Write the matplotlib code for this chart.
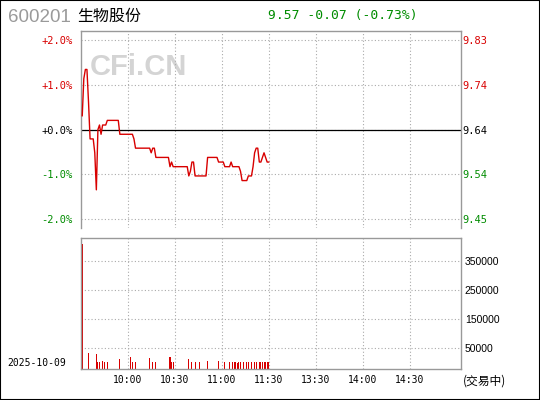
import numpy as np
import matplotlib.pyplot as plt
from matplotlib.patches import Rectangle

# quote header
code = '600201'
name = '生物股份'
last_price = 9.57
change = -0.07
change_pct = -0.73
prev_close = 9.64
trade_date = '2025-10-09'
status = '(交易中)'

# one price per minute, 9:31 .. 11:30
minutes = list(range(1, 121))
prices = [
    9.67, 9.75, 9.77, 9.77, 9.70, 9.62, 9.62, 9.62, 9.59, 9.51,
    9.64, 9.65, 9.63, 9.65, 9.65, 9.65, 9.66, 9.66, 9.66, 9.66,
    9.66, 9.66, 9.66, 9.66, 9.63, 9.63, 9.63, 9.63, 9.63, 9.63,
    9.63, 9.63, 9.63, 9.62, 9.60, 9.60, 9.60, 9.60, 9.60, 9.60,
    9.60, 9.60, 9.60, 9.60, 9.59, 9.60, 9.60, 9.58, 9.58, 9.58,
    9.58, 9.58, 9.58, 9.58, 9.58, 9.58, 9.56, 9.57, 9.56, 9.56,
    9.56, 9.56, 9.56, 9.56, 9.56, 9.56, 9.56, 9.56, 9.54, 9.55,
    9.57, 9.57, 9.54, 9.54, 9.54, 9.54, 9.54, 9.54, 9.54, 9.54,
    9.58, 9.58, 9.58, 9.58, 9.58, 9.58, 9.58, 9.57, 9.57, 9.57,
    9.57, 9.56, 9.56, 9.56, 9.56, 9.57, 9.56, 9.56, 9.56, 9.56,
    9.56, 9.55, 9.53, 9.53, 9.53, 9.53, 9.54, 9.54, 9.54, 9.56,
    9.59, 9.60, 9.60, 9.57, 9.57, 9.58, 9.59, 9.58, 9.57, 9.57,
]

# volume bars (minute index, shares)
vol_minutes = [1, 5, 10, 11, 12, 14, 15, 17, 25, 32, 33, 35, 44, 46, 48,
               57, 58, 59, 69, 71, 73, 76, 81, 88, 92, 95, 97, 98, 99, 100,
               101, 102, 104, 106, 107, 109, 111, 112, 114, 115, 116, 117,
               118, 119, 120]
volumes = [410000, 35000, 30000, 4000, 4000, 7000, 1200, 4000, 13000, 20000,
           1200, 1200, 16500, 1200, 4000, 20000, 1200, 1200, 13000, 1200,
           1200, 1200, 7000, 7000, 4000, 4000, 1200, 4000, 4000, 300,
           1200, 1200, 1200, 4000, 1200, 1200, 1200, 1200, 1200, 1200,
           1200, 1200, 4000, 1200, 1200]

pct_ticks = [2.0, 1.0, 0.0, -1.0, -2.0]
time_ticks = [30, 60, 90, 120, 150, 180, 210]
time_labels = ['10:00', '10:30', '11:00', '11:30', '13:30', '14:00', '14:30']
vol_ticks = [50000, 150000, 250000, 350000]

RED = '#d80000'
GREEN = '#008c00'
FRAME = '#999999'
GRID = '#aaaaaa'
MONO = 'DejaVu Sans Mono'

fig = plt.figure(figsize=(5.4, 4.0), dpi=100)
fig.add_artist(Rectangle((0, 0), 1, 1, transform=fig.transFigure,
                         fill=False, edgecolor='black', linewidth=1.5))

ax = fig.add_axes([0.1494, 0.4293, 0.7037, 0.4932])
axv = fig.add_axes([0.1494, 0.0763, 0.7037, 0.3287])

# ---- price panel ----
pct = (np.array(prices) / prev_close - 1) * 100
ax.plot(minutes, pct, color=RED, linewidth=1.0, zorder=3)
ax.axhline(0, color='black', linewidth=0.9, zorder=2)
lim = 2.21
ax.set_ylim(-lim, lim)
ax.set_xlim(0, 242.5)
ax.set_xticks(time_ticks)
ax.set_xticklabels([])
ax.set_yticks(pct_ticks)
ax.set_yticklabels(['%+.1f%%' % p for p in pct_ticks], fontsize=7.5, family=MONO)
for lab, p in zip(ax.get_yticklabels(), pct_ticks):
    lab.set_color(RED if p > 0 else (GREEN if p < 0 else 'black'))
ax.tick_params(length=0, pad=6)
ax.grid(True, linestyle=(0, (1, 2)), color=GRID, linewidth=0.8)
ax.set_axisbelow(True)
for s in ['left', 'top', 'right']:
    ax.spines[s].set_color(FRAME)
    ax.spines[s].set_linewidth(1.0)
ax.spines['bottom'].set_visible(False)

axr = ax.twinx()
axr.set_ylim(prev_close * (1 - lim / 100), prev_close * (1 + lim / 100))
price_ticks = [prev_close * (1 + p / 100) for p in pct_ticks]
axr.set_yticks(price_ticks)
axr.set_yticklabels(['%.2f' % v for v in price_ticks], fontsize=7.5, family=MONO)
for lab, p in zip(axr.get_yticklabels(), pct_ticks):
    lab.set_color(RED if p > 0 else (GREEN if p < 0 else 'black'))
axr.tick_params(length=0, pad=1)
for s in axr.spines.values():
    s.set_visible(False)

ax.text(0.025, 0.815, 'CFi.CN', transform=ax.transAxes, fontsize=21,
        fontweight='bold', family='Liberation Sans', color='#d4d4d4',
        va='center', ha='left', zorder=0)

# ---- volume panel ----
vol_floor = -23300
axv.bar(vol_minutes, np.array(volumes) - vol_floor, bottom=vol_floor,
        width=0.65, color=RED, linewidth=0, antialiased=False)
axv.set_ylim(vol_floor, 431200)
axv.set_xlim(0, 242.5)
axv.set_yticks(vol_ticks)
axv.set_yticklabels([str(v) for v in vol_ticks], fontsize=7.5,
                    family='Liberation Sans')
axv.yaxis.tick_right()
axv.set_xticks(time_ticks)
axv.set_xticklabels(time_labels, fontsize=7, family=MONO)
axv.tick_params(length=0)
axv.tick_params(axis='y', pad=3)
axv.tick_params(axis='x', pad=4)
axv.grid(True, linestyle=(0, (1, 2)), color=GRID, linewidth=0.8)
axv.set_axisbelow(True)
for s in axv.spines.values():
    s.set_color(FRAME)
    s.set_linewidth(1.0)

# ---- header / footer text ----
fig.text(8 / 540, 1 - 17 / 400, code, fontsize=13.5, color='#9a9a9a',
         family='Liberation Sans', va='center', ha='left')
fig.text(77 / 540, 1 - 16 / 400, name, fontsize=11.5, color='black',
         family=['Noto Sans CJK SC', 'DejaVu Sans'], va='center', ha='left')
fig.text(268 / 540, 1 - 15 / 400,
         '%.2f %+.2f (%+.2f%%)' % (last_price, change, change_pct),
         fontsize=9.4, color=GREEN, family=MONO, va='center', ha='left')
fig.text(7 / 540, 1 - 363 / 400, trade_date, fontsize=7, family=MONO,
         va='center', ha='left')
fig.text(463 / 540, 1 - 381 / 400, status, fontsize=8.5,
         family=['Noto Sans CJK SC', 'DejaVu Sans'], va='center', ha='left')

fig.savefig('out.png', dpi=100)
